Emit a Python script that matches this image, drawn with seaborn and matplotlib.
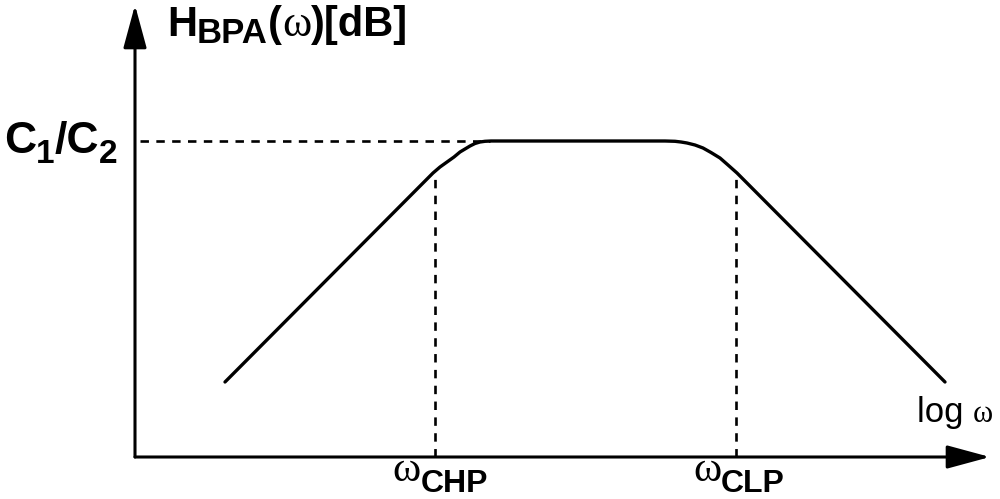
import matplotlib
matplotlib.use('Agg')
from matplotlib import pyplot as plt
from matplotlib.transforms import IdentityTransform
import seaborn as sns

sns.set_style('white')

# band-pass magnitude response sketch (x: log omega, y: dB)
curve_x = [0.90, 2.98, 3.05, 3.12, 3.19, 3.25, 3.30, 3.35, 3.40, 3.45, 3.50, 3.56,
           5.30, 5.40, 5.46, 5.52, 5.60, 5.68, 5.76, 5.85, 5.93, 6.02, 8.10]
curve_y = [0.75, 2.84, 2.90, 2.95, 3.00, 3.05, 3.08, 3.11, 3.135, 3.15, 3.157, 3.16,
           3.16, 3.157, 3.15, 3.14, 3.12, 3.09, 3.045, 2.99, 2.92, 2.84, 0.75]
passband = 3.16
cutoff_x = [3.00, 6.01]
cutoff_y = [2.84, 2.83]
cutoff_names = ['CHP', 'CLP']

SANS = 'Liberation Sans'
SERIF = 'Liberation Serif'


def chain(ax, x0, y0, parts):
    # lay text pieces side by side on a common baseline, dy in pixels
    r = ax.figure.canvas.get_renderer()
    px, py = ax.transData.transform((x0, y0))
    for s, size, weight, fam, dy in parts:
        t = ax.text(px, py + dy, s, transform=IdentityTransform(), fontsize=size,
                    fontweight=weight, family=fam, ha='left', va='baseline', color='black')
        px = t.get_window_extent(r).x1


fig = plt.figure(figsize=(10, 4.99), dpi=100)
ax = fig.add_axes([0, 0, 1, 1])
ax.set_xlim(-1.35, 8.65)
ax.set_ylim(-0.42, 4.57)
ax.set_axis_off()

arrow = dict(arrowstyle='-|>,head_length=1.33,head_width=0.36', lw=2.2, color='black',
             shrinkA=0, shrinkB=0, mutation_scale=20)
ax.annotate('', xy=(8.55, 0), xytext=(0, 0), arrowprops=arrow)
ax.annotate('', xy=(0, 4.52), xytext=(0, 0), arrowprops=arrow)

sns.lineplot(x=curve_x, y=curve_y, sort=False, color='black', linewidth=2.4, ax=ax)

dash = (0, (3.2, 2.8))
ax.hlines(passband, 0.05, 3.55, colors='black', linewidth=1.9, linestyles=dash)
ax.vlines(cutoff_x, 0, cutoff_y, colors='black', linewidth=1.9, linestyles=dash)

fig.canvas.draw()
chain(ax, 0.32, 4.21, [('H', 30, 'bold', SANS, 0), ('BPA', 25, 'bold', SANS, -7),
                       ('(', 30, 'bold', SANS, 0), ('ω', 32, 'normal', SERIF, 0),
                       (')[dB]', 30, 'bold', SANS, 0)])
chain(ax, -1.31, 3.04, [('C', 32, 'bold', SANS, 0), ('1', 24, 'bold', SANS, -10),
                        ('/C', 32, 'bold', SANS, 0), ('2', 24, 'bold', SANS, -10)])
for xc, name in zip(cutoff_x, cutoff_names):
    chain(ax, xc - 0.43, -0.24, [('ω', 31, 'normal', SERIF, 0), (name, 23, 'bold', SANS, -11)])
chain(ax, 7.82, 0.35, [('log ', 25, 'normal', SANS, 0), ('ω', 22, 'normal', SERIF, 0)])

fig.savefig('out.png', dpi=100)
